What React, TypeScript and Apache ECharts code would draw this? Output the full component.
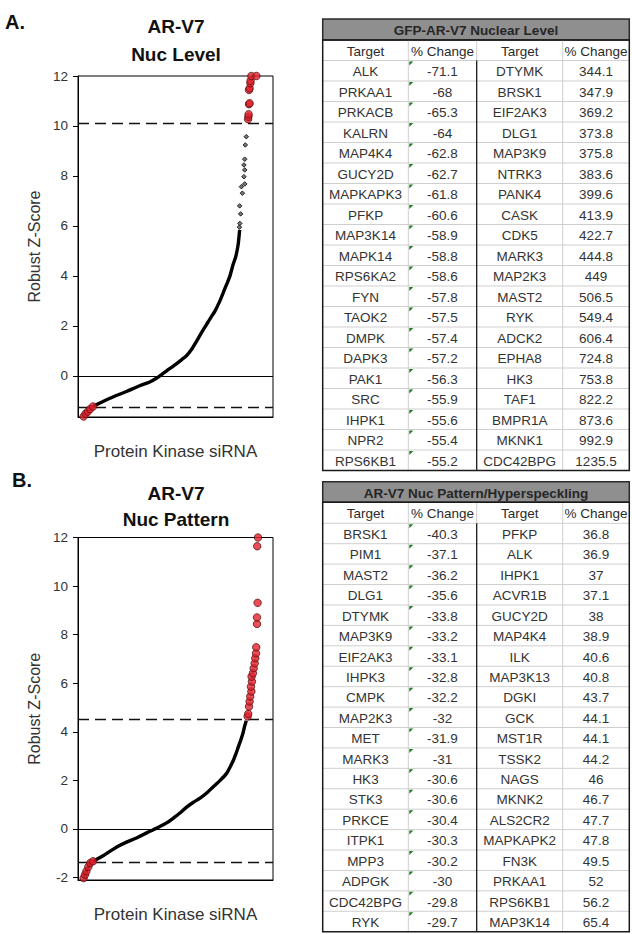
import { useEffect, useRef } from 'react';
import * as echarts from 'echarts';

// ---------- axis ticks ----------
const zTicksA = [0, 2, 4, 6, 8, 10, 12];
const zTicksB = [-2, 0, 2, 4, 6, 8, 10, 12];

// ---------- panel A : Nuc Level (x = percent rank of siRNA, y = robust Z) ----------
const levelCurve: [number, number][] = [
  [2.6, -1.62], [3.4, -1.55], [4.3, -1.47], [6.0, -1.35], [7.7, -1.23], [12.8, -1.03],
  [17.9, -0.85], [24.8, -0.63], [31.6, -0.4], [36.8, -0.25], [40.2, -0.1], [42.7, 0.04],
  [45.3, 0.19], [48.7, 0.38], [52.1, 0.58], [55.6, 0.8], [58.1, 1.04], [60.7, 1.37],
  [63.2, 1.71], [65.8, 2.04], [68.4, 2.37], [70.1, 2.57], [72.6, 2.97], [74.4, 3.31],
  [76.1, 3.64], [77.8, 3.97], [79.5, 4.44], [80.9, 4.77], [82.1, 5.24], [82.9, 5.84],
];
const levelSparse: [number, number][] = [
  [82.8, 5.95], [83.0, 6.1], [83.4, 6.48], [82.9, 6.8], [84.3, 7.31], [83.8, 7.57],
  [85.5, 7.68], [85.1, 7.97], [85.5, 8.24], [85.1, 8.44], [85.5, 8.67], [85.8, 9.24], [86.3, 9.57],
];
const levelHitsLow: [number, number][] = [
  [2.9, -1.63], [3.9, -1.52], [5.1, -1.43], [6.3, -1.33], [7.7, -1.23],
];
const levelHitsHigh: [number, number][] = [
  [87.2, 10.27], [87.4, 10.37], [87.5, 10.47], [87.7, 10.87], [88.0, 10.91], [87.7, 11.44],
  [88.0, 11.51], [88.4, 11.71], [88.5, 11.81], [88.9, 12.0], [91.5, 12.0],
];
const levelUpper = 10.1;
const levelLower = -1.24;

// ---------- panel B : Nuc Pattern ----------
const patternCurve: [number, number][] = [
  [2.9, -2.02], [3.6, -1.88], [4.3, -1.74], [5.3, -1.56], [6.3, -1.4], [7.7, -1.33],
  [9.4, -1.26], [12.9, -1.1], [16.3, -0.92], [20.6, -0.71], [24.9, -0.54], [30.0, -0.37],
  [35.2, -0.16], [38.6, -0.03], [41.2, 0.07], [45.5, 0.25], [48.9, 0.45], [52.3, 0.66],
  [55.7, 0.9], [59.2, 1.1], [62.6, 1.27], [66.0, 1.48], [69.5, 1.75], [72.9, 2.0],
  [76.3, 2.3], [78.0, 2.55], [79.8, 2.85], [81.1, 3.12], [82.3, 3.4], [83.5, 3.67],
  [84.6, 3.94], [85.4, 4.22], [86.3, 4.46],
];
const patternHitsLow: [number, number][] = [
  [2.9, -2.02], [3.6, -1.88], [4.3, -1.74], [5.3, -1.56], [6.3, -1.4], [7.7, -1.33],
];
const patternHitsHigh: [number, number][] = [
  [87.0, 4.63], [87.3, 4.74], [87.7, 5.04], [88.0, 5.25], [88.3, 5.45], [88.9, 5.66],
  [88.7, 5.86], [89.2, 6.07], [89.0, 6.27], [89.7, 6.41], [90.1, 6.62], [90.6, 6.82],
  [90.9, 7.03], [91.3, 7.23], [91.4, 7.48], [91.8, 8.44], [91.8, 8.71], [92.1, 9.31],
  [91.9, 11.64], [92.3, 12.0],
];
const patternUpper = 4.5;
const patternLower = -1.36;

// ---------- table A ----------
const levelTitle = 'GFP-AR-V7 Nuclear Level';
const levelDownTargets = ['ALK', 'PRKAA1', 'PRKACB', 'KALRN', 'MAP4K4', 'GUCY2D', 'MAPKAPK3', 'PFKP', 'MAP3K14', 'MAPK14', 'RPS6KA2', 'FYN', 'TAOK2', 'DMPK', 'DAPK3', 'PAK1', 'SRC', 'IHPK1', 'NPR2', 'RPS6KB1'];
const levelDownValues = ['-71.1', '-68', '-65.3', '-64', '-62.8', '-62.7', '-61.8', '-60.6', '-58.9', '-58.8', '-58.6', '-57.8', '-57.5', '-57.4', '-57.2', '-56.3', '-55.9', '-55.6', '-55.4', '-55.2'];
const levelUpTargets = ['DTYMK', 'BRSK1', 'EIF2AK3', 'DLG1', 'MAP3K9', 'NTRK3', 'PANK4', 'CASK', 'CDK5', 'MARK3', 'MAP2K3', 'MAST2', 'RYK', 'ADCK2', 'EPHA8', 'HK3', 'TAF1', 'BMPR1A', 'MKNK1', 'CDC42BPG'];
const levelUpValues = ['344.1', '347.9', '369.2', '373.8', '375.8', '383.6', '399.6', '413.9', '422.7', '444.8', '449', '506.5', '549.4', '606.4', '724.8', '753.8', '822.2', '873.6', '992.9', '1235.5'];

// ---------- table B ----------
const patternTitle = 'AR-V7 Nuc Pattern/Hyperspeckling';
const patternDownTargets = ['BRSK1', 'PIM1', 'MAST2', 'DLG1', 'DTYMK', 'MAP3K9', 'EIF2AK3', 'IHPK3', 'CMPK', 'MAP2K3', 'MET', 'MARK3', 'HK3', 'STK3', 'PRKCE', 'ITPK1', 'MPP3', 'ADPGK', 'CDC42BPG', 'RYK'];
const patternDownValues = ['-40.3', '-37.1', '-36.2', '-35.6', '-33.8', '-33.2', '-33.1', '-32.8', '-32.2', '-32', '-31.9', '-31', '-30.6', '-30.6', '-30.4', '-30.3', '-30.2', '-30', '-29.8', '-29.7'];
const patternUpTargets = ['PFKP', 'ALK', 'IHPK1', 'ACVR1B', 'GUCY2D', 'MAP4K4', 'ILK', 'MAP3K13', 'DGKI', 'GCK', 'MST1R', 'TSSK2', 'NAGS', 'MKNK2', 'ALS2CR2', 'MAPKAPK2', 'FN3K', 'PRKAA1', 'RPS6KB1', 'MAP3K14'];
const patternUpValues = ['36.8', '36.9', '37', '37.1', '38', '38.9', '40.6', '40.8', '43.7', '44.1', '44.1', '44.2', '46', '46.7', '47.7', '47.8', '49.5', '52', '56.2', '65.4'];

const headers = ['Target', '% Change', 'Target', '% Change'];

const FONT = "'Liberation Sans', Arial, sans-serif";
const RED = '#e3202c';
const RED_EDGE = '#4a0c0c';

function buildTable(
  title: string,
  cols: string[][],
  top: number,
  titleH: number,
  headH: number,
  rowH: number
): any[] {
  const xs = [322.7, 408.3, 476.7, 562.7, 629.3];
  const left = xs[0];
  const right = xs[4];
  const headTop = top + titleH;
  const dataTop = headTop + headH;
  const n = cols[0].length;
  const bottom = dataTop + n * rowH;
  const els: any[] = [];
  const light = '#cfcfcf';
  els.push({
    type: 'rect',
    shape: { x: left, y: top, width: right - left, height: titleH },
    style: { fill: '#8f8f8f', stroke: '#2a2a2a', lineWidth: 1.5 },
  });
  els.push({
    type: 'text',
    x: (left + right) / 2,
    y: top + titleH / 2 + 1,
    style: {
      text: title, fontFamily: FONT, fontSize: 13.5, fontWeight: 'bold',
      fill: '#262626', align: 'center', verticalAlign: 'middle',
    },
  });
  for (let i = 0; i < n; i++) {
    const y = dataTop + i * rowH;
    els.push({
      type: 'line',
      shape: { x1: left, y1: y, x2: right, y2: y },
      style: { stroke: light, lineWidth: 1 },
    });
  }
  [1, 3].forEach((k) => {
    els.push({
      type: 'line',
      shape: { x1: xs[k], y1: headTop, x2: xs[k], y2: bottom },
      style: { stroke: light, lineWidth: 1 },
    });
  });
  els.push({
    type: 'line',
    shape: { x1: xs[2], y1: headTop, x2: xs[2], y2: dataTop },
    style: { stroke: light, lineWidth: 1 },
  });
  els.push({
    type: 'line',
    shape: { x1: xs[2], y1: dataTop, x2: xs[2], y2: bottom },
    style: { stroke: '#1a1a1a', lineWidth: 1.3 },
  });
  els.push({
    type: 'rect',
    shape: { x: left, y: headTop, width: right - left, height: bottom - headTop },
    style: { fill: 'none', stroke: '#1a1a1a', lineWidth: 1.5 },
  });
  headers.forEach((h, k) => {
    els.push({
      type: 'text',
      x: (xs[k] + xs[k + 1]) / 2,
      y: headTop + headH / 2 + 1,
      style: {
        text: h, fontFamily: FONT, fontSize: 13.5, fill: '#2a2a2a',
        align: 'center', verticalAlign: 'middle',
      },
    });
  });
  cols.forEach((col, k) => {
    col.forEach((v, i) => {
      els.push({
        type: 'text',
        x: (xs[k] + xs[k + 1]) / 2,
        y: dataTop + i * rowH + rowH / 2 + 1,
        style: {
          text: v, fontFamily: FONT, fontSize: 13.5, fill: '#333',
          align: 'center', verticalAlign: 'middle',
        },
      });
    });
  });
  for (let i = 0; i < n; i++) {
    const x = xs[1] + 1;
    const y = dataTop + i * rowH + 1;
    els.push({
      type: 'polygon',
      shape: { points: [[x, y], [x + 4, y], [x, y + 4]] },
      style: { fill: '#1f7a1f' },
    });
  }
  return els;
}

function axisPair(idx: number, ticks: number[], yMin: number) {
  const x = {
    type: 'value', gridIndex: idx, min: 0, max: 100,
    axisLine: { show: true, onZero: false, lineStyle: { color: '#000', width: 1 } },
    axisTick: { show: false }, axisLabel: { show: false }, splitLine: { show: false },
    name: 'Protein Kinase siRNA', nameLocation: 'middle', nameGap: 26,
    nameTextStyle: { fontFamily: FONT, fontSize: 17, color: '#333' },
  };
  const y = {
    type: 'value', gridIndex: idx, min: yMin, max: 12,
    axisLine: { show: true, onZero: false, lineStyle: { color: '#000', width: 1 } },
    axisTick: { show: true, customValues: ticks, length: 5, lineStyle: { color: '#000' } },
    axisLabel: { customValues: ticks, fontFamily: FONT, fontSize: 13.5, color: '#333', margin: 10 },
    splitLine: { show: false },
    name: 'Robust Z-Score', nameLocation: 'middle', nameGap: 36,
    nameTextStyle: { fontFamily: FONT, fontSize: 16, color: '#333' },
  };
  return { x, y };
}

function panelSeries(
  idx: number,
  curve: [number, number][],
  sparse: [number, number][],
  low: [number, number][],
  high: [number, number][],
  upper: number,
  lower: number
): any[] {
  const dash = { type: [11, 6], color: '#111', width: 1.3 };
  const s: any[] = [
    {
      type: 'line', xAxisIndex: idx, yAxisIndex: idx, data: curve, showSymbol: false,
      smooth: 0.25, lineStyle: { color: '#000', width: 3.4 }, z: 3,
      markLine: {
        silent: true, symbol: ['none', 'none'], label: { show: false },
        data: [
          { yAxis: 0, lineStyle: { type: 'solid', color: '#000', width: 1.2 } },
          { yAxis: upper, lineStyle: dash },
          { yAxis: lower, lineStyle: dash },
        ],
      },
    },
    {
      type: 'scatter', xAxisIndex: idx, yAxisIndex: idx, data: [...low, ...high],
      symbol: 'circle', symbolSize: 7.5, z: 5,
      itemStyle: { color: RED, borderColor: RED_EDGE, borderWidth: 0.9 },
    },
  ];
  if (sparse.length) {
    s.push({
      type: 'scatter', xAxisIndex: idx, yAxisIndex: idx, data: sparse,
      symbol: 'diamond', symbolSize: 4.5, z: 4,
      itemStyle: { color: '#555', borderColor: '#000', borderWidth: 1 },
    });
  }
  return s;
}

export default function App() {
  const ref = useRef<HTMLDivElement>(null);
  useEffect(() => {
    if (!ref.current) return;
    const chart = echarts.init(ref.current, undefined, { renderer: 'svg' });
    const a = axisPair(0, zTicksA, -1.65);
    const b = axisPair(1, zTicksB, -2.1);
    const titleStyle = { fontFamily: FONT, fontSize: 19, fontWeight: 'bold', fill: '#111', align: 'center', verticalAlign: 'middle' };
    const option: any = {
      animation: false,
      backgroundColor: '#fff',
      grid: [
        { left: 78, top: 76, width: 195, height: 341, show: true, borderColor: '#000', borderWidth: 1 },
        { left: 78, top: 537.5, width: 195, height: 342.5, show: true, borderColor: '#000', borderWidth: 1 },
      ],
      xAxis: [a.x, b.x],
      yAxis: [a.y, b.y],
      series: [
        ...panelSeries(0, levelCurve, levelSparse, levelHitsLow, levelHitsHigh, levelUpper, levelLower),
        ...panelSeries(1, patternCurve, [], patternHitsLow, patternHitsHigh, patternUpper, patternLower),
      ],
      graphic: [
        { type: 'text', x: 5, y: 22, style: { text: 'A.', fontFamily: FONT, fontSize: 20, fontWeight: 'bold', fill: '#111', verticalAlign: 'middle' } },
        { type: 'text', x: 12, y: 480, style: { text: 'B.', fontFamily: FONT, fontSize: 20, fontWeight: 'bold', fill: '#111', verticalAlign: 'middle' } },
        { type: 'text', x: 176, y: 26, style: { ...titleStyle, text: 'AR-V7' } },
        { type: 'text', x: 176, y: 54, style: { ...titleStyle, text: 'Nuc Level' } },
        { type: 'text', x: 176, y: 493, style: { ...titleStyle, text: 'AR-V7' } },
        { type: 'text', x: 176, y: 519, style: { ...titleStyle, text: 'Nuc Pattern' } },
        ...buildTable(levelTitle, [levelDownTargets, levelDownValues, levelUpTargets, levelUpValues], 19, 21, 20.5, 20.5),
        ...buildTable(patternTitle, [patternDownTargets, patternDownValues, patternUpTargets, patternUpValues], 481.7, 20.6, 21, 20.42),
      ],
    };
    chart.setOption(option);
    return () => chart.dispose();
  }, []);
  return (
    <div
      ref={ref}
      style={{ position: 'absolute', left: 0, top: 0, width: 632, height: 934 }}
    />
  );
}
